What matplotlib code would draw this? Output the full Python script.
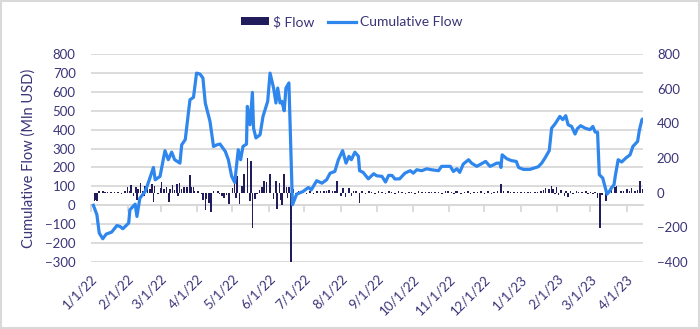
import matplotlib
matplotlib.use("Agg")
import numpy as np
import pandas as pd
import matplotlib.pyplot as plt
import matplotlib.dates as mdates
from matplotlib.patches import Patch, Rectangle
from matplotlib.lines import Line2D

plt.rcParams['font.family'] = ['Lato', 'DejaVu Sans']

START = pd.Timestamp('2022-01-01')

# Cumulative flow (left axis, Mln USD): day offset from 1/1/22 and value
line_day = [2, 5, 7, 10, 13, 17.5, 22, 24.6, 27, 32, 33, 37.5, 39, 41.5, 46, 49, 53, 54.5,
            58.6, 62.8, 65.6, 68.5, 71, 75.5, 77, 80, 84, 87, 89.6, 92.5, 95, 97, 101, 104,
            107, 109.5, 114, 116.6, 119.4, 122, 125, 127, 129, 132, 132.7, 135, 137, 138,
            140, 143.5, 146, 150, 152, 155, 157, 158.5, 160.5, 162, 164, 165.5, 168, 171,
            174.6, 180, 184.5, 187, 191.6, 196, 200, 203, 207, 210, 213.6, 216.5, 219, 221,
            224, 227, 228, 231, 235.4, 240, 242.5, 247, 250, 252.6, 255.5, 258, 262, 266.5,
            271, 273.6, 276.5, 280.7, 285, 289, 295, 297.6, 305, 307.6, 310.6, 313, 316,
            320.5, 323, 327.5, 331.6, 335, 338.7, 341.6, 344.4, 347, 348, 349, 353, 357, 361,
            363, 367, 372.6, 379.7, 382.6, 385.4, 389, 391, 394, 398, 400.5, 403, 405, 408,
            410.9, 412.8, 415.7, 419.4, 423.6, 426, 428, 430, 431.5, 434.4, 438, 440, 442,
            444, 445, 447.5, 450.5, 454, 457.6, 460, 464, 465.6, 467.7, 469]
line_val = [0, -50, -147, -177, -152, -142, -107, -112, -124, -94, -24, 6, -59, 38, 73, 126, 200, 135,
            153, 289, 241, 281, 241, 223, 320, 347, 558, 571, 699, 694, 673, 541, 444, 311,
            320, 324, 285, 241, 153, 121, 294, 241, 311, 324, 523, 426, 597, 408,
            356, 373, 470, 550, 699, 620, 541, 620, 541, 550, 500, 620, 647, 3,
            59, 73, 94, 82, 130, 117, 135, 170, 179, 241, 289, 223, 259, 241,
            281, 259, 183, 174, 140, 167, 156, 153, 123, 158, 158, 139, 140, 170,
            183, 170, 188, 183, 193, 188, 183, 206, 206, 179, 193, 174, 218,
            241, 223, 206, 220, 232, 206, 214, 223, 223, 200, 267, 246, 236, 232,
            200, 190, 190, 204, 223, 250, 289, 408, 431, 470, 453, 474, 426, 417,
            377, 405, 421, 408, 400, 417, 387, 387, 162, 144, 59, 73, 94,
            109, 153, 241, 229, 250, 267, 311, 338, 400, 453, 458]

# Daily $ flow (right axis): day offset from 1/1/22 and value
bar_day = [3, 4, 5, 7, 10, 12, 14, 17, 20, 23, 26, 29, 31, 33, 34,
           36, 38, 39, 40, 42, 44, 45, 46, 48, 50, 52, 53, 54, 57, 59, 60, 62,
           64, 66, 67, 69, 71, 73, 74, 75, 77, 79, 81, 82, 84, 85, 87, 88, 91,
           94, 95, 97, 98, 100, 102, 104, 108, 109, 111, 113, 115, 117, 120,
           122, 123, 124, 126, 128, 130, 133, 135, 136, 137, 139, 141, 143, 145, 147, 149,
           152, 155, 157, 158, 160, 161, 162, 164, 166, 167, 168, 170,
           172, 174, 176, 178, 180, 183, 186, 189, 192, 195, 198, 200, 202, 205, 207, 209,
           212, 214, 216, 219, 221, 223, 225, 228, 230, 233, 236, 238, 241, 244, 247, 250,
           253, 255, 258, 261, 264, 267, 270, 272, 275, 278, 281, 284, 287, 289, 292, 295,
           298, 301, 303, 306, 308, 310,
           311, 314, 317, 320, 322, 325, 328, 331, 334, 337, 340, 342, 345, 348, 350, 354,
           356, 359, 362, 365, 368, 371, 373, 377, 379, 382, 384, 386, 389, 391, 392, 394,
           395, 397, 399, 402, 403, 405, 407, 409, 412, 414, 417, 420, 422, 424, 426, 428,
           430, 432, 434, 437, 438, 440, 442, 445, 446, 450, 452, 455, 457, 459, 462, 464,
           466, 468]
bar_val = [-50, -45, -50, 8, 10, 5, 6, 5, 6, 5, -5, 8, 30, 10, 44,
           -20, 30, -45, 20, 56, 10, -20, 40, 69, 20, 50, -55, 40, -10, 25, 60, 20,
           30, -55, 20, 45, 15, 50, -20, 55, 20, 35, 30, 35, 100, 30, 35, 10, 8,
           -10, -40, -100, -35, -60, -113, 10, 8, -10, -20, -30, -15, -65, 25,
           90, -30, 95, -65, 40, 107, 200, -50, 185, -206, -35, -10, 15, 30, 70, 60,
           110, -35, 70, -95, 55, -40, -70, 105, 35, -30, 35, -410,
           20, -10, 10, 8, 5, -10, 8, -5, 8, 10, 8, 10, 15, 8, 12, 65,
           -20, 25, -25, 25, -20, 10, 8, -60, 10, -10, 8, 5, -10, 8, 5, -10,
           8, 5, -8, 8, 5, -10, 6, 5, -5, 8, 5, 5, 5, 5, 5, 6,
           -10, 10, 8, 6, -10, 10,
           10, -10, 5, 8, -5, 6, 5, 8, -8, 8, -10, 5, 10, 50, 8, 10,
           5, 5, 6, 5, 5, 5, 5, 6, 5, 10, 15, 25, 20, 40, 20, -10,
           30, -15, 15, -20, 12, -25, 10, -10, 8, 5, 5, 8, -5, 6, -5, 5,
           -30, -206, -15, -50, 10, 15, 25, 30, 40, 10, 8, 20, 10, 25, 10, 15,
           65, 20]

left_ticks = list(range(-300, 900, 100))
right_ticks = list(range(-400, 900, 200))
tick_dates = pd.date_range('2022-01-01', '2023-04-01', freq='MS')
tick_labels = [f"{d.month}/{d.day}/{d.strftime('%y')}" for d in tick_dates]

TXT = '#3a3478'
BAR = '#211c5c'
LINE = '#2f87ee'
GRID = '#d9d9d9'

x_line = mdates.date2num((START + pd.to_timedelta(line_day, unit='D')).to_numpy())
x_bar = mdates.date2num((START + pd.to_timedelta(bar_day, unit='D')).to_numpy())
x_ticks = mdates.date2num(tick_dates.to_numpy())
x_min = mdates.date2num(START.to_datetime64())
x_max = x_min + 468.6

fig = plt.figure(figsize=(7, 3.29), dpi=100)
ax = fig.add_axes([0.13, 0.2036, 0.7886, 0.6322])
ax2 = ax.twinx()
ax3 = ax.twinx()

# left axis: grid + ticks
ax.set_ylim(-300, 800)
ax.set_yticks(left_ticks)
ax.grid(axis='y', color=GRID, lw=1.3)
ax.set_axisbelow(True)
for s in ['top', 'left', 'right']:
    ax.spines[s].set_visible(False)
ax.spines['bottom'].set_position(('data', 0))
ax.spines['bottom'].set_color(GRID)
ax.spines['bottom'].set_linewidth(1.3)
ax.set_xlim(x_min, x_max)
ax.set_xticks(x_ticks)
ax.tick_params(axis='x', direction='out', length=5, width=1.3, color=GRID, labelbottom=False)
ax.tick_params(axis='y', length=0, pad=11, labelsize=9.5, labelcolor=TXT)
ax.set_ylabel('Cumulative Flow (Mln USD)', fontsize=10.5, color=TXT)
ax.yaxis.set_label_coords(-0.1, 0.5)

# right axis: bars
ax2.bar(x_bar, bar_val, width=1.3, color=BAR, linewidth=0)
ax2.set_ylim(-400, 800)
ax2.set_yticks(right_ticks)
ax2.tick_params(axis='y', length=0, pad=10, labelsize=9.5, labelcolor=TXT)
for s in ax2.spines.values():
    s.set_visible(False)

# line on top
ax3.plot(x_line, line_val, color=LINE, lw=2.3, solid_joinstyle='round')
ax3.set_ylim(-300, 800)
ax3.set_xlim(x_min, x_max)
ax3.axis('off')

# date labels below plot
sec = ax.secondary_xaxis(-0.045)
sec.set_ticks(x_ticks, labels=tick_labels)
sec.tick_params(length=0, pad=1, labelsize=9.5, labelcolor=TXT)
for s in sec.spines.values():
    s.set_visible(False)
for lbl in sec.get_xticklabels():
    lbl.set_rotation(45)
    lbl.set_ha('right')
    lbl.set_rotation_mode('anchor')

handles = [Patch(facecolor=BAR, edgecolor='none'), Line2D([0], [0], color=LINE, lw=2.3)]
fig.legend(handles, ['$ Flow', 'Cumulative Flow'], loc='center', bbox_to_anchor=(0.503, 1 - 22 / 329),
           ncol=2, frameon=False, fontsize=10, handlelength=2.0, handleheight=0.5,
           columnspacing=1.0, handletextpad=0.3, labelcolor=TXT)

fig.patches.append(Rectangle((0.001, 0.002), 0.997, 0.996, transform=fig.transFigure,
                             fill=False, ec=GRID, lw=1.5))

fig.savefig('out.png', dpi=100)
